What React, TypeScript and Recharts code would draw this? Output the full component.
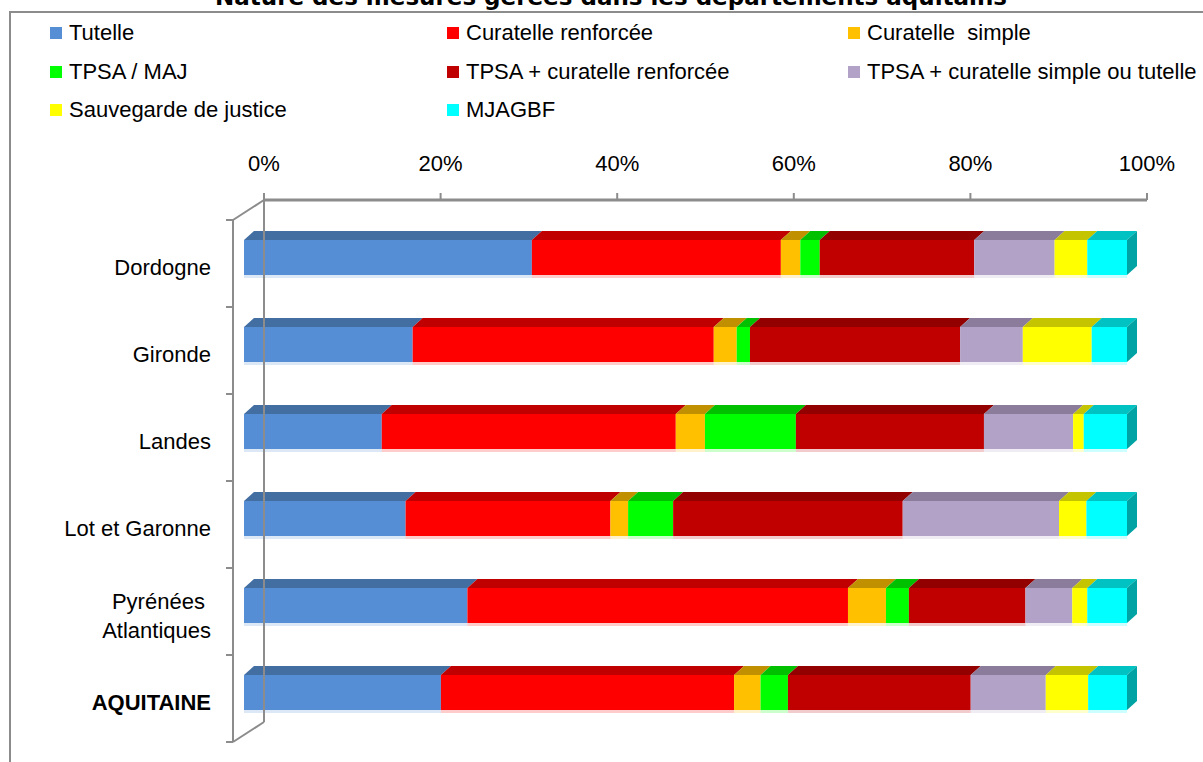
import { BarChart, Bar, XAxis, YAxis } from "recharts"

// share of each measure type per département, in percent (rows sum to 100)
const categories = ["Dordogne", "Gironde", "Landes", "Lot et Garonne", "Pyrénées \nAtlantiques", "AQUITAINE"]
const tutelle = [32.6, 19.1, 15.6, 18.3, 25.3, 22.3]
const curatelleRenforcee = [28.2, 34.1, 33.3, 23.2, 43.1, 33.2]
const curatelleSimple = [2.2, 2.6, 3.3, 2.0, 4.3, 3.0]
const tpsaMaj = [2.2, 1.5, 10.3, 5.1, 2.6, 3.1]
const tpsaCurRenforcee = [17.5, 23.8, 21.3, 26.0, 13.2, 20.7]
const tpsaCurSimple = [9.1, 7.1, 10.1, 17.7, 5.3, 8.5]
const sauvegarde = [3.7, 7.8, 1.2, 3.1, 1.7, 4.8]
const mjagbf = [4.5, 4.0, 4.9, 4.6, 4.5, 4.4]
const pctTicks = [0, 20, 40, 60, 80, 100]

const series = [
  { key: "tutelle", label: "Tutelle", values: tutelle, face: "#558ED5", top: "#426EA2" },
  { key: "curRenf", label: "Curatelle renforcée", values: curatelleRenforcee, face: "#FF0000", top: "#C00000" },
  { key: "curSimple", label: "Curatelle  simple", values: curatelleSimple, face: "#FFC000", top: "#C09000" },
  { key: "tpsaMaj", label: "TPSA / MAJ", values: tpsaMaj, face: "#00FF00", top: "#00C000" },
  { key: "tpsaRenf", label: "TPSA + curatelle renforcée", values: tpsaCurRenforcee, face: "#C00000", top: "#920000" },
  { key: "tpsaSimple", label: "TPSA + curatelle simple ou tutelle", values: tpsaCurSimple, face: "#B3A2C7", top: "#8A7C9A" },
  { key: "sauvegarde", label: "Sauvegarde de justice", values: sauvegarde, face: "#FFFF00", top: "#C4C400" },
  { key: "mjagbf", label: "MJAGBF", values: mjagbf, face: "#00FFFF", top: "#00C2C2", side: "#00A3A3" },
]

const rows = categories.map((name, i) => {
  const row: Record<string, string | number> = { name }
  series.forEach((s) => (row[s.key] = s.values[i]))
  return row
})

const W = 1203
const H = 762
const FONT = '"Liberation Sans", Arial, sans-serif'
const GRAY = "#8C8C8C"

// plot area = back wall of the 3D box
const PLOT_TOP = 200
const PLOT_BOTTOM = 722
const PLOT_LEFT = 264
const PLOT_RIGHT = 1147
const X_AXIS_H = 40
const BAND = (PLOT_BOTTOM - PLOT_TOP) / categories.length

// bars sit in front of the wall; the category axis is on the front edge of the floor
const FRONT_DX = -20
const FRONT_DY = 14
const DEPTH_X = 10
const DEPTH_Y = 9
const AXIS_DX = -31
const AXIS_DY = 20

function Block(props: any) {
  const { x, y, width, height, s, last } = props
  if (!width || width <= 0) return null
  const fx = x + FRONT_DX
  const fy = y + FRONT_DY
  const topFace = `${fx},${fy} ${fx + DEPTH_X},${fy - DEPTH_Y} ${fx + width + DEPTH_X},${fy - DEPTH_Y} ${fx + width},${fy}`
  const sideFace = `${fx + width},${fy} ${fx + width + DEPTH_X},${fy - DEPTH_Y} ${fx + width + DEPTH_X},${fy + height - DEPTH_Y} ${fx + width},${fy + height}`
  return (
    <g>
      <polygon points={topFace} fill={s.top} />
      {last && <polygon points={sideFace} fill={s.side} />}
      <rect x={fx} y={fy} width={width} height={height} fill={s.face} />
      <rect x={fx} y={fy + height} width={width} height={3} fill={s.face} opacity={0.2} />
    </g>
  )
}

function CategoryTick(props: any) {
  const { y, index, payload } = props
  const ax = PLOT_LEFT + AXIS_DX
  const fy = y - BAND / 2 + AXIS_DY
  const isLast = index === categories.length - 1
  const lines = String(payload.value).split("\n")
  const cy = y + 24
  return (
    <g>
      <line x1={ax} y1={fy} x2={ax} y2={fy + BAND} stroke={GRAY} strokeWidth={2} />
      <line x1={ax - 7} y1={fy} x2={ax} y2={fy} stroke={GRAY} strokeWidth={2} />
      {index === 0 && <line x1={ax} y1={fy} x2={PLOT_LEFT} y2={fy - AXIS_DY} stroke={GRAY} strokeWidth={2} />}
      {isLast && (
        <>
          <line x1={ax - 7} y1={fy + BAND} x2={ax} y2={fy + BAND} stroke={GRAY} strokeWidth={2} />
          <line x1={ax} y1={fy + BAND} x2={PLOT_LEFT} y2={fy + BAND - AXIS_DY} stroke={GRAY} strokeWidth={2} />
        </>
      )}
      <text
        x={211}
        y={cy - ((lines.length - 1) * 29) / 2}
        textAnchor="end"
        fontFamily={FONT}
        fontSize={22}
        fontWeight={isLast ? 700 : 400}
        fill="#000"
        style={{ whiteSpace: "pre" }}
      >
        {lines.map((l, i) => (
          <tspan key={i} x={211} dy={i === 0 ? "0.35em" : 29}>
            {l}
          </tspan>
        ))}
      </text>
    </g>
  )
}

const legendCols = [50, 447, 848]
const legendRows = [33, 72, 110]

export default function App() {
  return (
    <div style={{ position: "absolute", left: 0, top: 0, width: W, height: H, overflow: "hidden", background: "#fff" }}>
      <div
        style={{
          position: "absolute",
          left: 9,
          top: 11,
          width: 1400,
          height: 1000,
          border: `2px solid ${GRAY}`,
        }}
      />
      <svg width={W} height={20} style={{ position: "absolute", left: 0, top: 0 }}>
        <text x={611} y={5} textAnchor="middle" fontFamily='"DejaVu Sans", sans-serif' fontWeight={700} fontSize={23}>
          Nature des mesures gérées dans les départements aquitains
        </text>
      </svg>
      {series.map((s, i) => {
        const left = legendCols[i % 3]
        const cy = legendRows[Math.floor(i / 3)]
        return (
          <div key={s.key}>
            <div style={{ position: "absolute", left, top: cy - 6, width: 12, height: 12, background: s.face }} />
            <div
              style={{
                position: "absolute",
                left: left + 19,
                top: cy - 13,
                lineHeight: "26px",
                fontSize: 22,
                fontFamily: FONT,
                whiteSpace: "pre",
                color: "#000",
              }}
            >
              {s.label}
            </div>
          </div>
        )
      })}
      <div style={{ position: "absolute", left: 0, top: 0 }}>
        <BarChart
          width={W}
          height={H}
          data={rows}
          layout="vertical"
          barSize={35}
          margin={{ top: PLOT_TOP - X_AXIS_H, right: W - PLOT_RIGHT, bottom: H - PLOT_BOTTOM, left: 0 }}
        >
          <XAxis
            type="number"
            orientation="top"
            domain={[0, 100]}
            ticks={pctTicks}
            tickFormatter={(v: number) => `${v}%`}
            height={X_AXIS_H}
            axisLine={{ stroke: GRAY, strokeWidth: 3 }}
            tickLine={{ stroke: GRAY, strokeWidth: 2 }}
            tickSize={7}
            tickMargin={22}
            tick={{ fill: "#000", fontSize: 22, fontFamily: FONT }}
          />
          <YAxis
            type="category"
            dataKey="name"
            width={PLOT_LEFT}
            interval={0}
            axisLine={{ stroke: GRAY, strokeWidth: 2 }}
            tickLine={false}
            tick={(p: any) => <CategoryTick {...p} />}
          />
          {series.map((s, i) => (
            <Bar
              key={s.key}
              dataKey={s.key}
              stackId="m"
              fill={s.face}
              isAnimationActive={false}
              shape={(p: any) => <Block {...p} s={s} last={i === series.length - 1} />}
            />
          ))}
        </BarChart>
      </div>
    </div>
  )
}
